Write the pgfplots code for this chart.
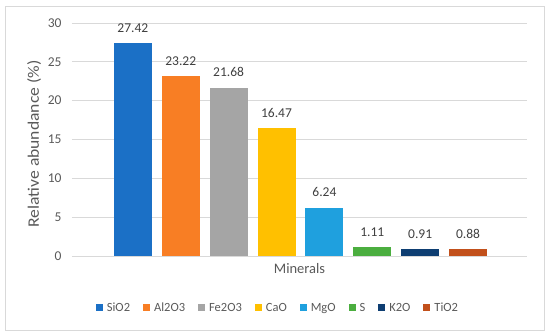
\documentclass[border=0pt]{standalone}
\usepackage{fontspec}
\setmainfont{Carlito}
\usepackage{pgfplots}
\pgfplotsset{compat=1.18}
\definecolor{cSi}{HTML}{1B70C6}
\definecolor{cAl}{HTML}{F87E24}
\definecolor{cFe}{HTML}{A5A5A5}
\definecolor{cCa}{HTML}{FFC000}
\definecolor{cMg}{HTML}{1FA0DE}
\definecolor{cS}{HTML}{4BAE3F}
\definecolor{cK}{HTML}{0E3E72}
\definecolor{cTi}{HTML}{C2501B}
\definecolor{txt}{HTML}{595959}
\definecolor{lbl}{HTML}{404040}
\definecolor{grd}{HTML}{D9D9D9}
\begin{document}
\begin{tikzpicture}[x=1pt,y=1pt]
\begin{axis}[
  width=455pt, height=233pt, scale only axis,
  ymin=0, ymax=30, xmin=-1.27, xmax=8.23,
  ytick={0,5,...,30}, xtick=\empty,
  ymajorgrids, grid style={color=grd, line width=0.8pt},
  axis x line*=bottom, axis y line*=left,
  x axis line style={color=grd, line width=0.8pt, -},
  y axis line style={draw=none},
  major tick length=0pt,
  /pgf/number format/assume math mode=true,
  yticklabel style={font=\fontsize{13.5}{15}\selectfont, text=txt, xshift=-7pt},
  xlabel={Minerals},
  xlabel style={at={(axis description cs:0.5,0)}, anchor=center, yshift=-13pt, font=\fontsize{14.5}{16}\selectfont, text=txt},
  ylabel={Relative abundance (\%)},
  ylabel style={at={(axis description cs:-0.0835,0.4807)}, anchor=center, font=\fontsize{16}{18}\selectfont, text=txt, xscale=1.1},
  nodes near coords={\pgfmathprintnumber[assume math mode=true]{\pgfplotspointmeta}},
  every node near coord/.append style={font=\fontsize{13.5}{15}\selectfont, text=lbl, yshift=7pt},
  legend image code/.code={\fill[#1, draw=none] (0pt,-3.5pt) rectangle (7pt,3.5pt);},
  legend style={at={(0.4505,-0.222)}, anchor=center, draw=none, fill=none,
    legend columns=-1, font=\fontsize{12.5}{14}\selectfont, text=txt,
    nodes={inner sep=0pt},
    /tikz/every odd column/.append style={column sep=4pt},
    /tikz/every even column/.append style={column sep=13pt}},
]
\addplot[ybar, bar width=38pt, bar shift=0pt, fill=cSi, draw=none] coordinates {(0,27.42)};
\addplot[ybar, bar width=38pt, bar shift=0pt, fill=cAl, draw=none] coordinates {(1,23.22)};
\addplot[ybar, bar width=38pt, bar shift=0pt, fill=cFe, draw=none] coordinates {(2,21.68)};
\addplot[ybar, bar width=38pt, bar shift=0pt, fill=cCa, draw=none] coordinates {(3,16.47)};
\addplot[ybar, bar width=38pt, bar shift=0pt, fill=cMg, draw=none] coordinates {(4,6.24)};
\addplot[ybar, bar width=38pt, bar shift=0pt, fill=cS, draw=none] coordinates {(5,1.11)};
\addplot[ybar, bar width=38pt, bar shift=0pt, fill=cK, draw=none] coordinates {(6,0.91)};
\addplot[ybar, bar width=38pt, bar shift=0pt, fill=cTi, draw=none] coordinates {(7,0.88)};
\legend{SiO2, Al2O3, Fe2O3, CaO, MgO, S, K2O, TiO2}
\coordinate (O) at (rel axis cs:0,0);
\end{axis}
\pgfresetboundingbox
\path (O) ++(-72,-80) coordinate (BL);
\useasboundingbox (BL) rectangle ++(550,336);
\draw[color=grd, line width=0.8pt] (BL) ++(5,6) rectangle ++(539,324);
\end{tikzpicture}
\end{document}
